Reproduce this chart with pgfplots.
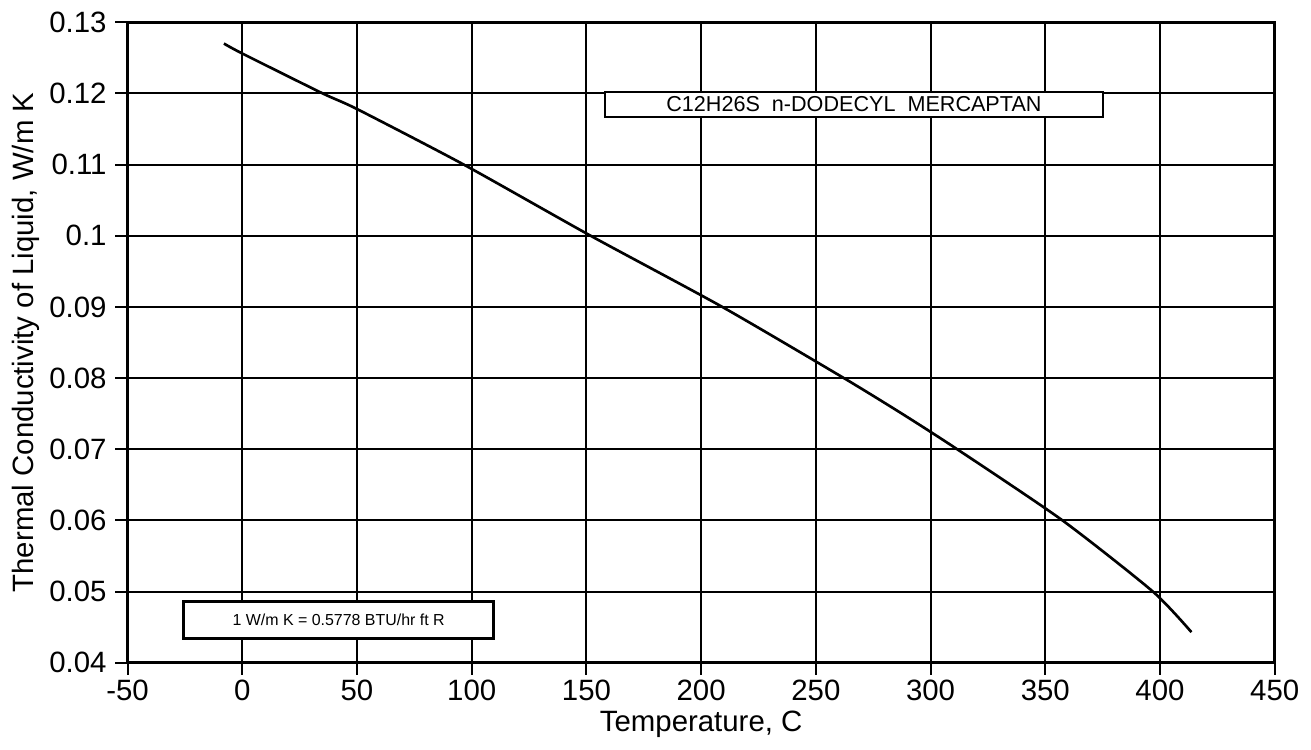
\documentclass[border=0pt]{standalone}
\usepackage{fontspec}
\setmainfont{Liberation Sans}
\usepackage{pgfplots}
\pgfplotsset{compat=1.18}

\begin{document}
\begin{tikzpicture}
  \begin{axis}[
      scale only axis,
      width=11.39cm, height=6.36cm,
      xmin=-50, xmax=450, ymin=0.04, ymax=0.13,
      xtick={-50,0,...,450},
      ytick={0.04,0.05,0.06,0.07,0.08,0.09,0.1,0.11,0.12,0.13},
      yticklabels={0.04,0.05,0.06,0.07,0.08,0.09,0.1,0.11,0.12,0.13},
      grid=major,
      major grid style={black, line width=0.55pt},
      axis line style={black, line width=0.75pt},
      tick style={black, line width=0.55pt},
      tick align=outside,
      major tick length=0.12cm,
      xtick pos=bottom, ytick pos=left,
      /pgf/number format/assume math mode=true,
      ticklabel style={font=\fontsize{8.3}{9.5}\selectfont},
      xticklabel style={yshift=2pt},
      yticklabel style={xshift=1pt},
      label style={font=\fontsize{8.3}{9.5}\selectfont},
      xlabel={Temperature, C},
      ylabel={Thermal Conductivity of Liquid, W/m K},
      xlabel style={yshift=4pt},
      ylabel style={yshift=-4pt},
      clip=false,
    ]
    % thermal conductivity curve
    \addplot[black, line width=0.75pt, smooth, tension=0.4] coordinates {
      (-8,0.1270) (0,0.1256) (35,0.1200) (50,0.1178) (96.5,0.1100)
      (151.8,0.1000) (209.2,0.0900) (262.2,0.0800) (288,0.0749)
      (311.6,0.0700) (357.5,0.0600) (396.9,0.0500)
      (413.7,0.0443)
    };

    \draw[black, line width=0.7pt, fill=white]
      (axis cs:158,0.11666) rectangle (axis cs:375.2,0.1202);
    \node[font=\fontsize{6.1}{7}\selectfont] at (axis cs:266.6,0.11843)
      {C12H26S\ \ n-DODECYL\ \ MERCAPTAN};

    \draw[black, line width=0.7pt, fill=white]
      (axis cs:-25.6,0.04344) rectangle (axis cs:109.6,0.04863);
    \node[font=\fontsize{4.5}{5}\selectfont] at (axis cs:42,0.04603)
      {1 W/m K = 0.5778 BTU/hr ft R};
  \end{axis}
\end{tikzpicture}
\end{document}
